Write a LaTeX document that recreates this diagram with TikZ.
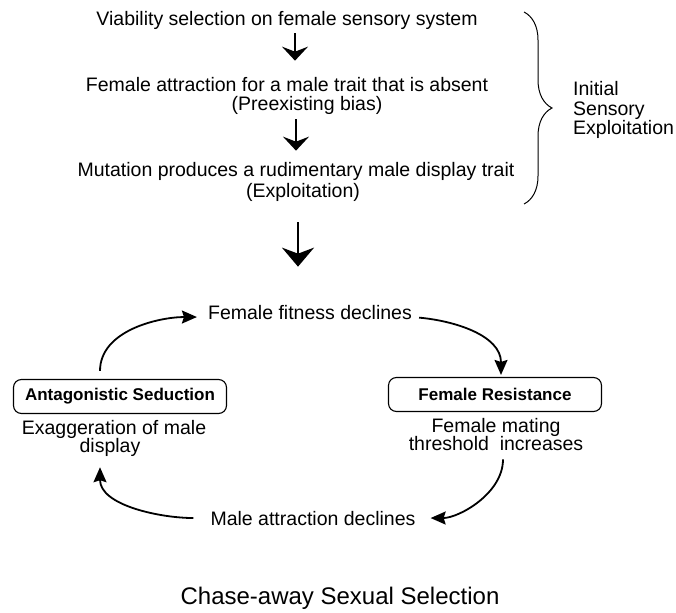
\documentclass[tikz,border=0pt]{standalone}
\usepackage{fontspec}
\setmainfont{Liberation Sans}
\usetikzlibrary{arrows.meta,decorations.pathreplacing}
\begin{document}
\begin{tikzpicture}[x=1pt,y=-1pt,
  txt/.style={inner sep=0pt, anchor=base, font=\fontsize{19.5}{19.5}\selectfont},
  boxlbl/.style={draw, rounded corners=8pt, line width=1.1pt, minimum width=213pt,
    minimum height=34pt, inner sep=0pt, font=\bfseries\fontsize{17}{20}\selectfont},
  conn/.style={line width=1.8pt, -{Stealth[length=15pt,width=13pt,inset=2pt]}},
  smallarr/.style={line width=1.6pt, -{Stealth[length=14pt,width=26pt,inset=5pt]}},
  bigarr/.style={line width=2.4pt, -{Stealth[length=19pt,width=32pt,inset=6pt]}}
]
\useasboundingbox (0,0) rectangle (676,612);

% top stack
\node[txt] (v1) at (287,26) {Viability selection on female sensory system};
\node[txt] (v2) at (287,92) {Female attraction for a male trait that is absent};
\node[txt] (v2b) at (307,111) {(Preexisting bias)};
\node[txt] (v3) at (296,177) {Mutation produces a rudimentary male display trait};
\node[txt] (v3b) at (303,197) {(Exploitation)};

\draw[smallarr, shorten <=3pt, shorten >=17pt] (295,0 |- v1.south) -- (295,0 |- v2.north);
\draw[smallarr, shorten <=4pt, shorten >=12pt] (296,0 |- v2b.south) -- (296,0 |- v3.north);

% brace
\draw[decorate, decoration={brace, amplitude=28pt}, line width=1pt] (524,12) -- (524,204);
\node[txt, anchor=west, align=left] (ise) at (573,110) {Initial\\Sensory\\Exploitation};

% cycle
\node[txt] (ffd) at (310,319) {Female fitness declines};
\draw[bigarr, shorten <=21pt, shorten >=38pt] (298,0 |- v3b.south) -- (298,0 |- ffd.north);

\node[boxlbl] (as) at (120,396.5) {Antagonistic Seduction};
\node[boxlbl] (fr) at (495,394.5) {Female Resistance};

\node[txt] (ex1) at (114,434) {Exaggeration of male};
\node[txt] (ex2) at (110,452) {display};
\node[txt] (fm1) at (496,432) {Female mating};
\node[txt] (fm2) at (496,450) {threshold\ \ increases};

\node[txt] (mad) at (313,525) {Male attraction declines};

\node[txt, font=\fontsize{24}{26}\selectfont] (title) at (340,604) {Chase-away Sexual Selection};

\draw[conn, shorten <=8pt, shorten >=11pt] ([xshift=-20pt]as.north) to[out=90, in=180] ([yshift=-5pt]ffd.west);
\draw[conn, shorten <=7pt, shorten >=2pt] ([yshift=-5pt]ffd.east) to[out=-5, in=90] ([xshift=6pt]fr.north);
\draw[conn, shorten <=9pt, shorten >=15pt] ([xshift=7pt]fm2.south) to[out=-90, in=0] (mad.east);
\draw[conn, shorten <=17pt, shorten >=11pt] (mad.west) to[out=180, in=-90] ([xshift=-10pt]ex2.south);
\end{tikzpicture}
\end{document}
